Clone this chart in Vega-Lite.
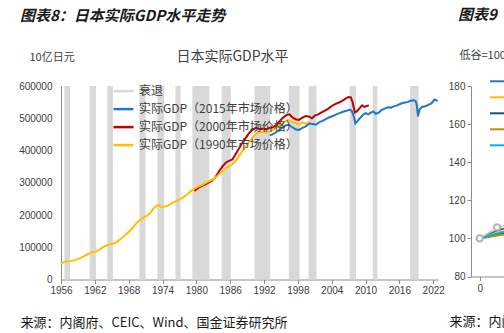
{
  "$schema": "https://vega.github.io/schema/vega-lite/v6.json",
  "background": "white",
  "autosize": {"type": "pad"},
  "padding": {"left": 18, "top": 8, "right": 0, "bottom": 4},
  "config": {
    "view": {"stroke": null},
    "font": "Noto Sans CJK SC",
    "concat": {"spacing": 3},
    "axis": {"labelFont": "Liberation Sans", "labelColor": "#404040", "labelFontSize": 10, "grid": false, "domainColor": "#8c8c8c", "tickColor": "#8c8c8c", "titleFont": "Noto Sans CJK SC", "titleFontWeight": "normal", "titleColor": "#262626"},
    "title": {"font": "Noto Sans CJK SC", "fontSize": 15, "fontStyle": "italic", "fontWeight": "bold", "color": "#1a1a1a", "anchor": "start", "frame": "group"}
  },
  "resolve": {"scale": {"x": "independent", "y": "independent", "color": "independent"}, "legend": {"color": "independent"}},
  "datasets": {
    "rec": [
      {"start": 1956.6, "end": 1957.6},
      {"start": 1961.1, "end": 1962.2},
      {"start": 1964.2, "end": 1965.2},
      {"start": 1969.9, "end": 1971.0},
      {"start": 1973.1, "end": 1974.3},
      {"start": 1976.3, "end": 1977.2},
      {"start": 1979.3, "end": 1982.3},
      {"start": 1984.5, "end": 1986.1},
      {"start": 1990.3, "end": 1993.1},
      {"start": 1996.4, "end": 1998.3},
      {"start": 1999.9, "end": 2001.3},
      {"start": 2007.2, "end": 2008.3},
      {"start": 2011.3, "end": 2012.1},
      {"start": 2017.9, "end": 2019.4}
    ],
    "gdp": [
      {"year": 1993.0, "value": 447000, "series": "实际GDP（2015年市场价格）"},
      {"year": 1993.5, "value": 450000, "series": "实际GDP（2015年市场价格）"},
      {"year": 1994.0, "value": 455000, "series": "实际GDP（2015年市场价格）"},
      {"year": 1994.6, "value": 462000, "series": "实际GDP（2015年市场价格）"},
      {"year": 1995.2, "value": 470000, "series": "实际GDP（2015年市场价格）"},
      {"year": 1995.8, "value": 478000, "series": "实际GDP（2015年市场价格）"},
      {"year": 1996.4, "value": 480000, "series": "实际GDP（2015年市场价格）"},
      {"year": 1997.0, "value": 472000, "series": "实际GDP（2015年市场价格）"},
      {"year": 1997.6, "value": 466000, "series": "实际GDP（2015年市场价格）"},
      {"year": 1998.2, "value": 464000, "series": "实际GDP（2015年市场价格）"},
      {"year": 1998.8, "value": 470000, "series": "实际GDP（2015年市场价格）"},
      {"year": 1999.4, "value": 475000, "series": "实际GDP（2015年市场价格）"},
      {"year": 2000.0, "value": 484000, "series": "实际GDP（2015年市场价格）"},
      {"year": 2000.6, "value": 482000, "series": "实际GDP（2015年市场价格）"},
      {"year": 2001.2, "value": 480000, "series": "实际GDP（2015年市场价格）"},
      {"year": 2001.8, "value": 488000, "series": "实际GDP（2015年市场价格）"},
      {"year": 2002.4, "value": 492000, "series": "实际GDP（2015年市场价格）"},
      {"year": 2003.0, "value": 498000, "series": "实际GDP（2015年市场价格）"},
      {"year": 2003.6, "value": 503000, "series": "实际GDP（2015年市场价格）"},
      {"year": 2004.2, "value": 507000, "series": "实际GDP（2015年市场价格）"},
      {"year": 2004.8, "value": 512000, "series": "实际GDP（2015年市场价格）"},
      {"year": 2005.4, "value": 516000, "series": "实际GDP（2015年市场价格）"},
      {"year": 2006.0, "value": 520000, "series": "实际GDP（2015年市场价格）"},
      {"year": 2006.6, "value": 523000, "series": "实际GDP（2015年市场价格）"},
      {"year": 2007.2, "value": 527000, "series": "实际GDP（2015年市场价格）"},
      {"year": 2007.6, "value": 522000, "series": "实际GDP（2015年市场价格）"},
      {"year": 2008.0, "value": 500000, "series": "实际GDP（2015年市场价格）"},
      {"year": 2008.2, "value": 484000, "series": "实际GDP（2015年市场价格）"},
      {"year": 2008.6, "value": 492000, "series": "实际GDP（2015年市场价格）"},
      {"year": 2009.0, "value": 500000, "series": "实际GDP（2015年市场价格）"},
      {"year": 2009.5, "value": 510000, "series": "实际GDP（2015年市场价格）"},
      {"year": 2010.0, "value": 516000, "series": "实际GDP（2015年市场价格）"},
      {"year": 2010.5, "value": 512000, "series": "实际GDP（2015年市场价格）"},
      {"year": 2011.0, "value": 518000, "series": "实际GDP（2015年市场价格）"},
      {"year": 2011.4, "value": 521000, "series": "实际GDP（2015年市场价格）"},
      {"year": 2011.8, "value": 514000, "series": "实际GDP（2015年市场价格）"},
      {"year": 2012.3, "value": 517000, "series": "实际GDP（2015年市场价格）"},
      {"year": 2012.8, "value": 525000, "series": "实际GDP（2015年市场价格）"},
      {"year": 2013.4, "value": 530000, "series": "实际GDP（2015年市场价格）"},
      {"year": 2014.0, "value": 534000, "series": "实际GDP（2015年市场价格）"},
      {"year": 2014.5, "value": 533000, "series": "实际GDP（2015年市场价格）"},
      {"year": 2015.0, "value": 537000, "series": "实际GDP（2015年市场价格）"},
      {"year": 2015.6, "value": 540000, "series": "实际GDP（2015年市场价格）"},
      {"year": 2016.2, "value": 545000, "series": "实际GDP（2015年市场价格）"},
      {"year": 2016.8, "value": 548000, "series": "实际GDP（2015年市场价格）"},
      {"year": 2017.4, "value": 550000, "series": "实际GDP（2015年市场价格）"},
      {"year": 2018.0, "value": 554000, "series": "实际GDP（2015年市场价格）"},
      {"year": 2018.6, "value": 556000, "series": "实际GDP（2015年市场价格）"},
      {"year": 2018.9, "value": 553000, "series": "实际GDP（2015年市场价格）"},
      {"year": 2019.1, "value": 540000, "series": "实际GDP（2015年市场价格）"},
      {"year": 2019.3, "value": 506000, "series": "实际GDP（2015年市场价格）"},
      {"year": 2019.6, "value": 528000, "series": "实际GDP（2015年市场价格）"},
      {"year": 2020.0, "value": 535000, "series": "实际GDP（2015年市场价格）"},
      {"year": 2020.6, "value": 537000, "series": "实际GDP（2015年市场价格）"},
      {"year": 2021.2, "value": 542000, "series": "实际GDP（2015年市场价格）"},
      {"year": 2021.7, "value": 546000, "series": "实际GDP（2015年市场价格）"},
      {"year": 2022.2, "value": 558000, "series": "实际GDP（2015年市场价格）"},
      {"year": 2022.6, "value": 555000, "series": "实际GDP（2015年市场价格）"},
      {"year": 2022.8, "value": 554000, "series": "实际GDP（2015年市场价格）"},
      {"year": 1979.6, "value": 283000, "series": "实际GDP（2000年市场价格）"},
      {"year": 1979.8, "value": 277000, "series": "实际GDP（2000年市场价格）"},
      {"year": 1980.5, "value": 286000, "series": "实际GDP（2000年市场价格）"},
      {"year": 1981.2, "value": 292000, "series": "实际GDP（2000年市场价格）"},
      {"year": 1982.0, "value": 299000, "series": "实际GDP（2000年市场价格）"},
      {"year": 1982.7, "value": 306000, "series": "实际GDP（2000年市场价格）"},
      {"year": 1983.3, "value": 315000, "series": "实际GDP（2000年市场价格）"},
      {"year": 1984.0, "value": 335000, "series": "实际GDP（2000年市场价格）"},
      {"year": 1984.6, "value": 350000, "series": "实际GDP（2000年市场价格）"},
      {"year": 1985.2, "value": 362000, "series": "实际GDP（2000年市场价格）"},
      {"year": 1985.8, "value": 368000, "series": "实际GDP（2000年市场价格）"},
      {"year": 1986.4, "value": 372000, "series": "实际GDP（2000年市场价格）"},
      {"year": 1987.0, "value": 390000, "series": "实际GDP（2000年市场价格）"},
      {"year": 1987.6, "value": 408000, "series": "实际GDP（2000年市场价格）"},
      {"year": 1988.2, "value": 425000, "series": "实际GDP（2000年市场价格）"},
      {"year": 1988.8, "value": 440000, "series": "实际GDP（2000年市场价格）"},
      {"year": 1989.4, "value": 455000, "series": "实际GDP（2000年市场价格）"},
      {"year": 1990.0, "value": 465000, "series": "实际GDP（2000年市场价格）"},
      {"year": 1990.6, "value": 470000, "series": "实际GDP（2000年市场价格）"},
      {"year": 1991.2, "value": 466000, "series": "实际GDP（2000年市场价格）"},
      {"year": 1991.8, "value": 468000, "series": "实际GDP（2000年市场价格）"},
      {"year": 1992.4, "value": 466000, "series": "实际GDP（2000年市场价格）"},
      {"year": 1993.0, "value": 470000, "series": "实际GDP（2000年市场价格）"},
      {"year": 1993.6, "value": 472000, "series": "实际GDP（2000年市场价格）"},
      {"year": 1994.2, "value": 480000, "series": "实际GDP（2000年市场价格）"},
      {"year": 1994.8, "value": 492000, "series": "实际GDP（2000年市场价格）"},
      {"year": 1995.4, "value": 502000, "series": "实际GDP（2000年市场价格）"},
      {"year": 1996.0, "value": 510000, "series": "实际GDP（2000年市场价格）"},
      {"year": 1996.5, "value": 512000, "series": "实际GDP（2000年市场价格）"},
      {"year": 1997.0, "value": 503000, "series": "实际GDP（2000年市场价格）"},
      {"year": 1997.6, "value": 497000, "series": "实际GDP（2000年市场价格）"},
      {"year": 1998.2, "value": 495000, "series": "实际GDP（2000年市场价格）"},
      {"year": 1998.8, "value": 502000, "series": "实际GDP（2000年市场价格）"},
      {"year": 1999.4, "value": 507000, "series": "实际GDP（2000年市场价格）"},
      {"year": 2000.0, "value": 505000, "series": "实际GDP（2000年市场价格）"},
      {"year": 2000.5, "value": 500000, "series": "实际GDP（2000年市场价格）"},
      {"year": 2001.0, "value": 508000, "series": "实际GDP（2000年市场价格）"},
      {"year": 2001.6, "value": 512000, "series": "实际GDP（2000年市场价格）"},
      {"year": 2002.2, "value": 518000, "series": "实际GDP（2000年市场价格）"},
      {"year": 2002.8, "value": 524000, "series": "实际GDP（2000年市场价格）"},
      {"year": 2003.4, "value": 530000, "series": "实际GDP（2000年市场价格）"},
      {"year": 2004.0, "value": 538000, "series": "实际GDP（2000年市场价格）"},
      {"year": 2004.6, "value": 544000, "series": "实际GDP（2000年市场价格）"},
      {"year": 2005.2, "value": 548000, "series": "实际GDP（2000年市场价格）"},
      {"year": 2005.8, "value": 553000, "series": "实际GDP（2000年市场价格）"},
      {"year": 2006.4, "value": 560000, "series": "实际GDP（2000年市场价格）"},
      {"year": 2007.0, "value": 566000, "series": "实际GDP（2000年市场价格）"},
      {"year": 2007.4, "value": 565000, "series": "实际GDP（2000年市场价格）"},
      {"year": 2007.7, "value": 550000, "series": "实际GDP（2000年市场价格）"},
      {"year": 2008.1, "value": 518000, "series": "实际GDP（2000年市场价格）"},
      {"year": 2008.5, "value": 522000, "series": "实际GDP（2000年市场价格）"},
      {"year": 2009.0, "value": 532000, "series": "实际GDP（2000年市场价格）"},
      {"year": 2009.4, "value": 540000, "series": "实际GDP（2000年市场价格）"},
      {"year": 2009.8, "value": 535000, "series": "实际GDP（2000年市场价格）"},
      {"year": 2010.2, "value": 538000, "series": "实际GDP（2000年市场价格）"},
      {"year": 2010.6, "value": 540000, "series": "实际GDP（2000年市场价格）"},
      {"year": 1956.0, "value": 50000, "series": "实际GDP（1990年市场价格）"},
      {"year": 1956.6, "value": 54000, "series": "实际GDP（1990年市场价格）"},
      {"year": 1957.6, "value": 57000, "series": "实际GDP（1990年市场价格）"},
      {"year": 1958.5, "value": 60000, "series": "实际GDP（1990年市场价格）"},
      {"year": 1959.5, "value": 67000, "series": "实际GDP（1990年市场价格）"},
      {"year": 1960.5, "value": 76000, "series": "实际GDP（1990年市场价格）"},
      {"year": 1961.5, "value": 85000, "series": "实际GDP（1990年市场价格）"},
      {"year": 1962.2, "value": 87000, "series": "实际GDP（1990年市场价格）"},
      {"year": 1962.8, "value": 92000, "series": "实际GDP（1990年市场价格）"},
      {"year": 1963.5, "value": 101000, "series": "实际GDP（1990年市场价格）"},
      {"year": 1964.3, "value": 107000, "series": "实际GDP（1990年市场价格）"},
      {"year": 1965.0, "value": 110000, "series": "实际GDP（1990年市场价格）"},
      {"year": 1965.6, "value": 113000, "series": "实际GDP（1990年市场价格）"},
      {"year": 1966.3, "value": 122000, "series": "实际GDP（1990年市场价格）"},
      {"year": 1967.0, "value": 132000, "series": "实际GDP（1990年市场价格）"},
      {"year": 1967.7, "value": 143000, "series": "实际GDP（1990年市场价格）"},
      {"year": 1968.5, "value": 156000, "series": "实际GDP（1990年市场价格）"},
      {"year": 1969.2, "value": 171000, "series": "实际GDP（1990年市场价格）"},
      {"year": 1969.8, "value": 182000, "series": "实际GDP（1990年市场价格）"},
      {"year": 1970.5, "value": 191000, "series": "实际GDP（1990年市场价格）"},
      {"year": 1971.2, "value": 197000, "series": "实际GDP（1990年市场价格）"},
      {"year": 1971.8, "value": 206000, "series": "实际GDP（1990年市场价格）"},
      {"year": 1972.4, "value": 220000, "series": "实际GDP（1990年市场价格）"},
      {"year": 1973.0, "value": 229000, "series": "实际GDP（1990年市场价格）"},
      {"year": 1973.3, "value": 231000, "series": "实际GDP（1990年市场价格）"},
      {"year": 1973.7, "value": 224000, "series": "实际GDP（1990年市场价格）"},
      {"year": 1974.3, "value": 226000, "series": "实际GDP（1990年市场价格）"},
      {"year": 1975.0, "value": 229000, "series": "实际GDP（1990年市场价格）"},
      {"year": 1975.6, "value": 236000, "series": "实际GDP（1990年市场价格）"},
      {"year": 1976.3, "value": 242000, "series": "实际GDP（1990年市场价格）"},
      {"year": 1977.0, "value": 248000, "series": "实际GDP（1990年市场价格）"},
      {"year": 1977.6, "value": 254000, "series": "实际GDP（1990年市场价格）"},
      {"year": 1978.3, "value": 263000, "series": "实际GDP（1990年市场价格）"},
      {"year": 1979.0, "value": 274000, "series": "实际GDP（1990年市场价格）"},
      {"year": 1979.6, "value": 281000, "series": "实际GDP（1990年市场价格）"},
      {"year": 1980.3, "value": 288000, "series": "实际GDP（1990年市场价格）"},
      {"year": 1981.0, "value": 293000, "series": "实际GDP（1990年市场价格）"},
      {"year": 1981.6, "value": 299000, "series": "实际GDP（1990年市场价格）"},
      {"year": 1982.3, "value": 305000, "series": "实际GDP（1990年市场价格）"},
      {"year": 1983.0, "value": 311000, "series": "实际GDP（1990年市场价格）"},
      {"year": 1983.7, "value": 321000, "series": "实际GDP（1990年市场价格）"},
      {"year": 1984.4, "value": 332000, "series": "实际GDP（1990年市场价格）"},
      {"year": 1985.0, "value": 342000, "series": "实际GDP（1990年市场价格）"},
      {"year": 1985.7, "value": 350000, "series": "实际GDP（1990年市场价格）"},
      {"year": 1986.3, "value": 356000, "series": "实际GDP（1990年市场价格）"},
      {"year": 1987.0, "value": 369000, "series": "实际GDP（1990年市场价格）"},
      {"year": 1987.6, "value": 384000, "series": "实际GDP（1990年市场价格）"},
      {"year": 1988.2, "value": 399000, "series": "实际GDP（1990年市场价格）"},
      {"year": 1988.8, "value": 414000, "series": "实际GDP（1990年市场价格）"},
      {"year": 1989.4, "value": 428000, "series": "实际GDP（1990年市场价格）"},
      {"year": 1990.0, "value": 440000, "series": "实际GDP（1990年市场价格）"},
      {"year": 1990.5, "value": 451000, "series": "实际GDP（1990年市场价格）"},
      {"year": 1991.0, "value": 456000, "series": "实际GDP（1990年市场价格）"},
      {"year": 1991.8, "value": 458000, "series": "实际GDP（1990年市场价格）"},
      {"year": 1992.5, "value": 455000, "series": "实际GDP（1990年市场价格）"},
      {"year": 1993.2, "value": 460000, "series": "实际GDP（1990年市场价格）"},
      {"year": 1994.0, "value": 468000, "series": "实际GDP（1990年市场价格）"},
      {"year": 1994.7, "value": 478000, "series": "实际GDP（1990年市场价格）"},
      {"year": 1995.5, "value": 487000, "series": "实际GDP（1990年市场价格）"},
      {"year": 1996.2, "value": 495000, "series": "实际GDP（1990年市场价格）"},
      {"year": 1996.8, "value": 490000, "series": "实际GDP（1990年市场价格）"},
      {"year": 1997.5, "value": 485000, "series": "实际GDP（1990年市场价格）"},
      {"year": 1998.2, "value": 480000, "series": "实际GDP（1990年市场价格）"},
      {"year": 1998.8, "value": 487000, "series": "实际GDP（1990年市场价格）"},
      {"year": 1999.4, "value": 483000, "series": "实际GDP（1990年市场价格）"},
      {"year": 2000.0, "value": 490000, "series": "实际GDP（1990年市场价格）"}
    ],
    "p2": [
      {"t": 0, "v": 100, "s": "周期A"}, {"t": 1, "v": 104.0, "s": "周期A"}, {"t": 2, "v": 107, "s": "周期A"},
      {"t": 0, "v": 100, "s": "周期B"}, {"t": 1, "v": 103.0, "s": "周期B"}, {"t": 2, "v": 105, "s": "周期B"},
      {"t": 0, "v": 100, "s": "周期C"}, {"t": 1, "v": 102.0, "s": "周期C"}, {"t": 2, "v": 104, "s": "周期C"},
      {"t": 0, "v": 100, "s": "周期D"}, {"t": 1, "v": 101.5, "s": "周期D"}, {"t": 2, "v": 103, "s": "周期D"},
      {"t": 0, "v": 100, "s": "周期E"}, {"t": 1, "v": 102.5, "s": "周期E"}, {"t": 2, "v": 105, "s": "周期E"}
    ],
    "p2g": [
      {"t": 0, "v": 100}, {"t": 1, "v": 105.8}, {"t": 2, "v": 108}
    ]
  },
  "hconcat": [
    {
      "width": 377,
      "height": 193.5,
      "title": {"text": "图表8：日本实际GDP水平走势", "dx": -41, "offset": 26},
      "resolve": {"axis": {"x": "independent"}},
      "layer": [
        {
          "data": {"name": "rec"},
          "mark": {"type": "rect", "color": "#d9d9d9"},
          "encoding": {
            "x": {"field": "start", "type": "quantitative", "scale": {"domain": [1956, 2022.85], "nice": false, "zero": false},
              "axis": {"values": [1956, 1962, 1968, 1974, 1980, 1986, 1992, 1998, 2004, 2010, 2016, 2022], "format": "d", "tickSize": 4, "labelPadding": 2, "labelFlush": false, "labelOverlap": false,
                "title": "来源：内阁府、CEIC、Wind、国金证券研究所", "titleFontSize": 13, "titleX": -41, "titleY": 43, "titleAlign": "left", "titleAnchor": "start", "titleBaseline": "middle", "titleColor": "#1a1a1a"}},
            "x2": {"field": "end"},
            "y": {"datum": 0, "type": "quantitative", "scale": {"domain": [0, 600000], "nice": false},
              "axis": {"values": [0, 100000, 200000, 300000, 400000, 500000, 600000], "format": "d", "ticks": false, "tickSize": 0, "labelPadding": 9, "labelOverlap": false,
                "title": "10亿日元", "titleAngle": 0, "titleFontSize": 11, "titleX": -32, "titleY": -28.5, "titleAlign": "left", "titleBaseline": "middle", "titleColor": "#404040"}},
            "y2": {"datum": 600000}
          }
        },
        {
          "data": {"name": "gdp"},
          "mark": {"type": "line", "strokeWidth": 2},
          "encoding": {
            "x": {"field": "year", "type": "quantitative",
              "axis": {"orient": "top", "labels": false, "ticks": false, "domain": false, "title": "日本实际GDP水平", "titleFontSize": 14, "titleX": 171, "titleY": -29.5, "titleAlign": "center", "titleBaseline": "middle", "titleColor": "#404040"}},
            "y": {"field": "value", "type": "quantitative",
              "axis": {"values": [0, 100000, 200000, 300000, 400000, 500000, 600000], "format": "d", "ticks": false, "tickSize": 0, "labelPadding": 9, "labelOverlap": false,
                "title": "10亿日元", "titleAngle": 0, "titleFontSize": 11, "titleX": -32, "titleY": -28.5, "titleAlign": "left", "titleBaseline": "middle", "titleColor": "#404040"}},
            "color": {"field": "series", "type": "nominal",
              "scale": {"domain": ["衰退", "实际GDP（2015年市场价格）", "实际GDP（2000年市场价格）", "实际GDP（1990年市场价格）"], "range": ["#d9d9d9", "#1f77c9", "#c00000", "#ffc000"]},
              "legend": {"orient": "none", "legendX": 51, "legendY": -6.4, "title": null, "symbolType": "stroke", "symbolSize": 400, "symbolStrokeWidth": 2.5,
                "labelFontSize": 12, "labelColor": "#404040", "labelOffset": 4, "rowPadding": -11.1}}
          }
        }
      ]
    },
    {
      "width": 348,
      "height": 190.5,
      "title": {"text": "图表9", "dx": -13, "offset": 26},
      "layer": [
        {
          "data": {"name": "p2"},
          "mark": {"type": "line", "strokeWidth": 2},
          "encoding": {
            "x": {"field": "t", "type": "quantitative", "scale": {"domain": [-0.5, 19.5], "nice": false, "zero": false},
              "axis": {"values": [0, 4, 8, 12, 16], "format": "d", "tickSize": 4, "labelPadding": 3,
                "title": "来源：内阁府、国金证券研究所", "titleFontSize": 13, "titleX": -22, "titleY": 45, "titleAlign": "left", "titleAnchor": "start", "titleBaseline": "middle", "titleColor": "#1a1a1a"}},
            "y": {"field": "v", "type": "quantitative", "scale": {"domain": [80, 180], "nice": false, "zero": false},
              "axis": {"values": [80, 100, 120, 140, 160, 180], "format": "d", "tickSize": 4, "labelPadding": 2, "labelOverlap": false,
                "title": "低谷=100", "titleAngle": 0, "titleFontSize": 11, "titleX": -12, "titleY": -30.7, "titleAlign": "left", "titleBaseline": "middle", "titleColor": "#404040"}},
            "color": {"field": "s", "type": "nominal",
              "scale": {"domain": ["周期A", "周期B", "周期C", "周期D", "周期E"], "range": ["#2e75b6", "#ffc000", "#1f4e79", "#bf9000", "#00b0f0"]},
              "legend": {"orient": "none", "legendX": 18, "legendY": -15.7, "title": null, "symbolType": "stroke", "symbolSize": 400, "symbolStrokeWidth": 2, "labelFontSize": 10, "rowPadding": -9.5}}
          }
        },
        {
          "data": {"name": "p2g"},
          "mark": {"type": "line", "strokeWidth": 1.5, "color": "#c8c8c8", "point": {"filled": true, "fill": "white", "stroke": "#b0b0b0", "size": 40}},
          "encoding": {
            "x": {"field": "t", "type": "quantitative"},
            "y": {"field": "v", "type": "quantitative",
              "axis": {"values": [80, 100, 120, 140, 160, 180], "format": "d", "tickSize": 4, "labelPadding": 2, "labelOverlap": false,
                "title": "低谷=100", "titleAngle": 0, "titleFontSize": 11, "titleX": -12, "titleY": -30.7, "titleAlign": "left", "titleBaseline": "middle", "titleColor": "#404040"}}
          }
        }
      ]
    }
  ]
}
